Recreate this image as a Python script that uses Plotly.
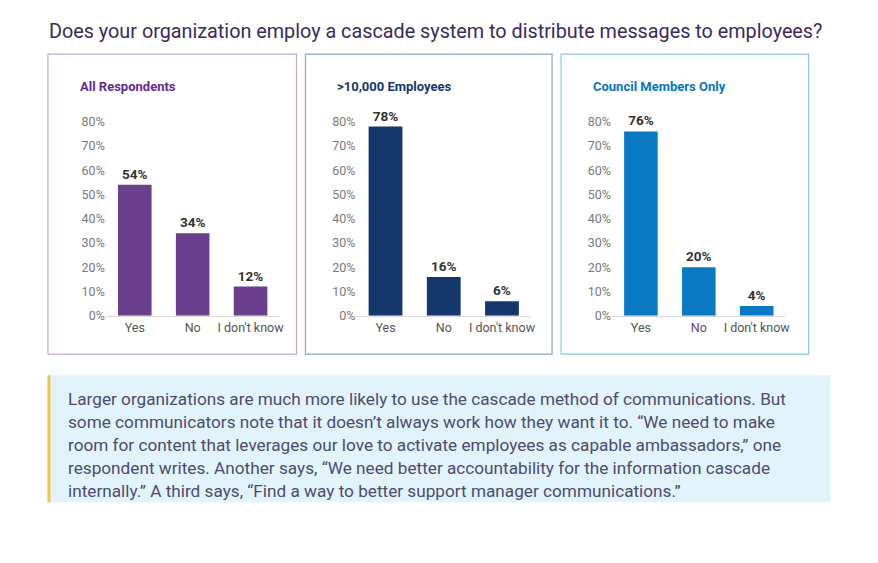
import plotly.graph_objects as go

SX, SY = 1.004, 1.013  # compensation for observed render scale
W, H = round(878 * SX), round(563 * SY)

title = "Does your organization employ a cascade system to distribute messages to employees?"
categories = ["Yes", "No", "I don't know"]
panel_titles = ["All Respondents", ">10,000 Employees", "Council Members Only"]
all_respondents = [54, 34, 12]
over_10000 = [78, 16, 6]
council_members = [76, 20, 4]
series = [all_respondents, over_10000, council_members]
y_ticks = [0, 10, 20, 30, 40, 50, 60, 70, 80]
y_tick_labels = [f"{v}%" for v in y_ticks]
paragraph = [
    "Larger organizations are much more likely to use the cascade method of communications. But",
    "some communicators note that it doesn\u2019t always work how they want it to. \u201cWe need to make",
    "room for content that leverages our love to activate employees as capable ambassadors,\u201d one",
    "respondent writes. Another says, \u201cWe need better accountability for the information cascade",
    "internally.\u201d A third says, \u201cFind a way to better support manager communications.\u201d",
]

bar_colors = ["#6a3f8b", "#14386b", "#0a79c4"]
title_colors = ["#5f2d8e", "#14386b", "#0a74c0"]
box_colors = ["#c3a9d6", "#8fa5c0", "#86c8ec"]

# pixel layout helpers (reference pixel -> paper fraction)
def px(x):
    return x * SX / W

def py(y):
    return 1 - y * SY / H

x_domains = [(106, 280), (357, 532), (613, 787)]
boxes = [(48, 54, 297, 354), (306, 54, 553, 354), (562, 54, 810, 354)]
y_top, y_bot = 109.5, 315.5

fig = go.Figure()
font = "Roboto"

for i in range(3):
    xa = "x" if i == 0 else f"x{i+1}"
    ya = "y" if i == 0 else f"y{i+1}"
    ticktext = list(categories)
    if i == 2:
        ticktext[1] = '<span style="color:#6a3f8b">No</span>'
    fig.add_trace(go.Bar(
        x=list(range(3)), y=series[i], xaxis=xa, yaxis=ya,
        marker=dict(color=bar_colors[i], line=dict(width=0)),
        width=0.58,
        text=[f"<b>{v}%</b>" for v in series[i]],
        textposition="outside", cliponaxis=False,
        textfont=dict(family=font, size=13.5, color="#333333"),
        hoverinfo="skip", showlegend=False,
    ))
    d0, d1 = x_domains[i]
    fig.layout[f"xaxis{'' if i == 0 else i+1}"] = dict(
        domain=[px(d0), px(d1)], range=[-0.5, 2.5], anchor=ya,
        tickmode="array", tickvals=[0, 1, 2], ticktext=ticktext,
        showline=True, linecolor="#d9d9d9", linewidth=1,
        showgrid=False, zeroline=False, ticks="",
        tickfont=dict(family=font, size=12.5, color="#555555"),
        fixedrange=True,
    )
    fig.layout[f"yaxis{'' if i == 0 else i+1}"] = dict(
        domain=[py(y_bot), py(y_top)], range=[0, 85], anchor=xa,
        tickmode="array", tickvals=y_ticks, ticktext=y_tick_labels,
        showgrid=False, zeroline=False, showline=False, ticks="",
        tickfont=dict(family=font, size=12.5, color="#7a7a7a"),
        fixedrange=True,
    )
    bx0, by0, bx1, by1 = boxes[i]
    fig.add_shape(type="rect", xref="paper", yref="paper",
                  x0=px(bx0), x1=px(bx1), y0=py(by1), y1=py(by0),
                  line=dict(color=box_colors[i], width=1.2), fillcolor="rgba(0,0,0,0)")
    fig.add_annotation(text=f"<b>{panel_titles[i]}</b>", xref="paper", yref="paper",
                       x=px(bx0 + 30), y=py(86), xanchor="left", yanchor="middle",
                       showarrow=False,
                       font=dict(family=font, size=13, color=title_colors[i]))

# title
fig.add_annotation(text=title, xref="paper", yref="paper", x=px(47), y=py(31),
                   xanchor="left", yanchor="middle", showarrow=False,
                   font=dict(family=font, size=19.8, color="#3a2a5e"))

# text box
fig.add_shape(type="rect", xref="paper", yref="paper", x0=px(48), x1=px(832),
              y0=py(502), y1=py(375), line=dict(width=0), fillcolor="#e1f4fb", layer="below")
fig.add_shape(type="rect", xref="paper", yref="paper", x0=px(47.5), x1=px(50.5),
              y0=py(502), y1=py(375), line=dict(width=0), fillcolor="#f6c445")
for k, line in enumerate(paragraph):
    fig.add_annotation(text=line, xref="paper", yref="paper", x=px(66), y=py(399 + 23 * k),
                       xanchor="left", yanchor="middle", showarrow=False,
                       font=dict(family=font, size=17.2, color="#4f4b6e"))

fig.update_layout(
    width=W, height=H, margin=dict(l=0, r=0, t=0, b=0),
    paper_bgcolor="white", plot_bgcolor="white", bargap=0.4,
)
fig.write_html(
    "out.html",
    config={"displayModeBar": False},
    post_script="document.body.style.margin='0';document.body.style.overflow='hidden';",
)
